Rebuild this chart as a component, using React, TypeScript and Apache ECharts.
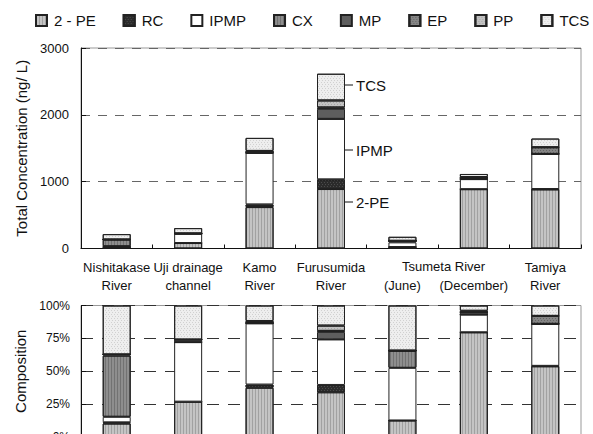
import React, { useEffect, useRef } from "react";
import * as echarts from "echarts";

const categories = [
  "Nishitakase\nRiver",
  "Uji drainage\nchannel",
  "Kamo\nRiver",
  "Furusumida\nRiver",
  "\n(June)",
  "\n(December)",
  "Tamiya\nRiver",
];
const seriesNames = ["2 - PE", "RC", "IPMP", "CX", "MP", "EP", "PP", "TCS"];
const pe2 = [22, 82, 620, 890, 22, 888, 885];
const rc = [2, 0, 40, 145, 0, 0, 5];
const ipmp = [9, 138, 770, 905, 70, 150, 525];
const cx = [100, 0, 0, 0, 23, 0, 0];
const mp = [2, 6, 15, 150, 0, 20, 0];
const ep = [0, 0, 0, 20, 0, 0, 100];
const pp = [0, 0, 15, 105, 0, 12, 0];
const tcs = [80, 79, 195, 400, 60, 45, 130];
const topTicks = [0, 1000, 2000, 3000];
const pctTicks = [0, 25, 50, 75, 100];

const FONT = "Liberation Sans";

const stripes = (c: string) => ({
  symbol: "rect",
  symbolSize: 1,
  color: c,
  dashArrayX: [1, 2],
  dashArrayY: [4, 0],
  rotation: 0,
});
const dots = (c: string) => ({
  symbol: "rect",
  symbolSize: 1,
  color: c,
  dashArrayX: [[1, 2], [0, 1, 1, 1]],
  dashArrayY: [1, 1],
  rotation: 0,
});

const styles: any[] = [
  { color: "#c4c4c4", decal: stripes("rgba(0,0,0,0.18)") },
  { color: "#2b2b2b", decal: dots("rgba(255,255,255,0.15)") },
  { color: "#ffffff" },
  { color: "#8e8e8e", decal: stripes("rgba(0,0,0,0.2)") },
  { color: "#5e5e5e" },
  { color: "#858585", decal: dots("rgba(0,0,0,0.25)") },
  { color: "#c2c2c2", decal: dots("rgba(0,0,0,0.15)") },
  { color: "#eeeeee", decal: dots("rgba(0,0,0,0.12)") },
];

export default function App() {
  const ref = useRef<HTMLDivElement>(null);
  useEffect(() => {
    if (!ref.current) return;
    const chart = echarts.init(ref.current, undefined, { renderer: "svg" });
    const all = [pe2, rc, ipmp, cx, mp, ep, pp, tcs];
    const totals = categories.map((_, i) => all.reduce((s, a) => s + a[i], 0));
    const pct = all.map((a) => a.map((v, i) => (v / totals[i]) * 100));

    const topSeries = all.map((d, k) => ({
      name: seriesNames[k],
      type: "bar",
      stack: "top",
      xAxisIndex: 0,
      yAxisIndex: 0,
      barWidth: 28,
      data: d,
      itemStyle: { ...styles[k], borderColor: "#222", borderWidth: 1 },
    }));
    const botSeries = pct.map((d, k) => ({
      name: seriesNames[k],
      type: "bar",
      stack: "bot",
      xAxisIndex: 1,
      yAxisIndex: 1,
      barWidth: 28,
      data: d,
      itemStyle: { ...styles[k], borderColor: "#222", borderWidth: 1 },
    }));

    const axisText = { color: "#111", fontFamily: FONT };

    chart.setOption({
      animation: false,
      backgroundColor: "#fff",
      textStyle: { fontFamily: FONT },
      legend: {
        data: seriesNames.map((n) => ({ name: n, icon: "rect" })),
        left: 35,
        top: 13,
        padding: 0,
        width: 558,
        itemWidth: 11,
        itemHeight: 11,
        itemGap: 27,
        textStyle: { fontSize: 15, color: "#111", fontFamily: FONT, padding: [0, 0, 0, 2] },
      },
      grid: [
        { left: 81, right: 12, top: 48, height: 200.5, show: true, borderColor: "#999", borderWidth: 1, outerBoundsMode: "none" },
        { left: 81, right: 12, top: 305.5, height: 131.5, show: true, borderColor: "#999", borderWidth: 1, outerBoundsMode: "none" },
      ],
      xAxis: [
        {
          type: "category",
          gridIndex: 0,
          data: categories,
          axisLine: { lineStyle: { color: "#111", width: 1 } },
          axisTick: { show: true, inside: true, length: 4, lineStyle: { color: "#111" } },
          axisLabel: { ...axisText, fontSize: 13, lineHeight: 18, margin: 10, interval: 0 },
        },
        {
          type: "category",
          gridIndex: 1,
          data: categories,
          axisLine: { lineStyle: { color: "#111", width: 1 } },
          axisTick: { show: false },
          axisLabel: { show: false },
        },
      ],
      yAxis: [
        {
          type: "value",
          gridIndex: 0,
          min: topTicks[0],
          max: topTicks[topTicks.length - 1],
          interval: 1000,
          name: "Total Concentration (ng/ L)",
          nameLocation: "middle",
          nameGap: 52,
          nameTextStyle: { fontSize: 15, color: "#111", fontFamily: FONT },
          axisLine: { show: true, lineStyle: { color: "#111" } },
          axisTick: { show: true, inside: true, length: 5, lineStyle: { color: "#111" } },
          axisLabel: { ...axisText, fontSize: 13, margin: 12, formatter: (v: number) => String(v) },
          splitLine: { show: true, lineStyle: { color: "#666", type: [9, 8] } },
        },
        {
          type: "value",
          gridIndex: 1,
          min: pctTicks[0],
          max: pctTicks[pctTicks.length - 1],
          interval: 25,
          name: "Composition",
          nameLocation: "middle",
          nameGap: 52,
          nameTextStyle: { fontSize: 15, color: "#111", fontFamily: FONT },
          axisLine: { show: true, lineStyle: { color: "#111" } },
          axisTick: { show: true, inside: true, length: 5, lineStyle: { color: "#111" } },
          axisLabel: { ...axisText, fontSize: 12, margin: 11, formatter: "{value}%" },
          splitLine: { show: true, lineStyle: { color: "#333", type: [12, 9] } },
        },
      ],
      graphic: [
        { type: "text", left: 402, top: 260, style: { text: "Tsumeta River", fontSize: 13, fill: "#111", fontFamily: FONT } },
        { type: "line", shape: { x1: 336, y1: 85, x2: 353, y2: 85 }, style: { stroke: "#111", lineWidth: 1 } },
        { type: "line", shape: { x1: 333, y1: 150, x2: 353, y2: 150 }, style: { stroke: "#111", lineWidth: 1 } },
        { type: "line", shape: { x1: 336, y1: 202, x2: 353, y2: 202 }, style: { stroke: "#111", lineWidth: 1 } },
        { type: "text", x: 356, y: 85, style: { text: "TCS", fontSize: 15, fill: "#111", fontFamily: FONT, verticalAlign: "middle" } },
        { type: "text", x: 356, y: 150, style: { text: "IPMP", fontSize: 15, fill: "#111", fontFamily: FONT, verticalAlign: "middle" } },
        { type: "text", x: 356, y: 202, style: { text: "2-PE", fontSize: 15, fill: "#111", fontFamily: FONT, verticalAlign: "middle" } },
      ],
      series: [...topSeries, ...botSeries],
    });
    return () => chart.dispose();
  }, []);
  return (
    <div
      ref={ref}
      style={{ position: "absolute", left: 0, top: 0, width: 593, height: 434, background: "#fff" }}
    />
  );
}
